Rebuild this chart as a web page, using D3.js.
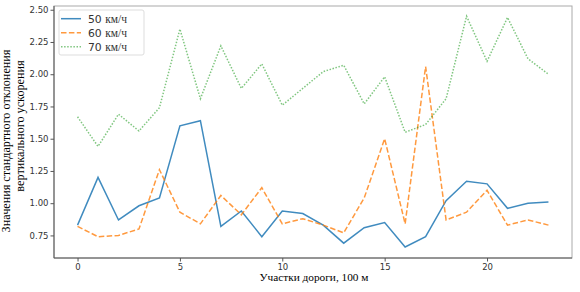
<!DOCTYPE html>
<html><head><meta charset="utf-8">
<script src="https://cdn.jsdelivr.net/npm/d3@7"></script>
<style>body{margin:0;background:#fff}</style>
</head><body>
<svg id="c" width="580" height="292"></svg>
<script>
const sections = d3.range(0, 24);
const v50 = [0.83,1.20,0.87,0.98,1.04,1.60,1.64,0.82,0.94,0.74,0.94,0.92,0.83,0.69,0.81,0.85,0.66,0.74,1.02,1.17,1.15,0.96,1.00,1.01];
const v60 = [0.82,0.74,0.75,0.80,1.26,0.93,0.84,1.06,0.91,1.12,0.84,0.88,0.83,0.77,1.04,1.50,0.84,2.06,0.87,0.93,1.10,0.83,0.87,0.83];
const v70 = [1.67,1.44,1.69,1.56,1.74,2.35,1.81,2.22,1.89,2.08,1.76,1.89,2.02,2.07,1.77,1.98,1.55,1.61,1.81,2.45,2.10,2.44,2.12,2.00];
const seriesNames = ["50", "60", "70"];
const xTicks = [0,5,10,15,20];
const yTicks = [0.75,1.00,1.25,1.50,1.75,2.00,2.25,2.50];

const svg = d3.select("#c");
const L=54, R=572, T=6, B=258;
const x = d3.scaleLinear().domain([-1.15, 24.15]).range([L, R]);
const y = d3.scaleLinear().domain([0.575, 2.529]).range([B, T]);

const series = [
  {name: seriesNames[0], vals: v50, color: "#1f77b4", dash: null, op: 0.85},
  {name: seriesNames[1], vals: v60, color: "#ff7f0e", dash: "5.5,2.4", op: 0.8},
  {name: seriesNames[2], vals: v70, color: "#2ca02c", dash: "1.5,1.6", op: 0.6}
];

const line = d3.line().x((d,i)=>x(sections[i])).y(d=>y(d));
series.forEach(s=>{
  svg.append("path").attr("d", line(s.vals)).attr("fill","none")
    .attr("stroke", s.color).attr("stroke-width",1.5).attr("stroke-opacity", s.op)
    .attr("stroke-dasharray", s.dash);
});

// frame
svg.append("rect").attr("x",L).attr("y",T).attr("width",R-L).attr("height",B-T)
  .attr("fill","none").attr("stroke","#aaa").attr("stroke-width",1);
svg.append("line").attr("x1",L).attr("x2",L).attr("y1",T).attr("y2",B).attr("stroke","#555");
svg.append("line").attr("x1",L).attr("x2",R).attr("y1",B).attr("y2",B).attr("stroke","#555");

const xa = svg.append("g").attr("transform",`translate(0,${B})`)
  .call(d3.axisBottom(x).tickValues(xTicks).tickFormat(d3.format("d")).tickSize(3.5).tickPadding(2));
const ya = svg.append("g").attr("transform",`translate(${L},0)`)
  .call(d3.axisLeft(y).tickValues(yTicks).tickFormat(d3.format(".2f")).tickSize(3.5).tickPadding(2));
[xa, ya].forEach(a=>{
  a.select(".domain").remove();
  a.selectAll(".tick line").attr("stroke","#555");
  a.selectAll(".tick text").attr("fill","#333").style("font-family","DejaVu Sans").style("font-size","8.5px");
});

// axis labels
svg.append("text").attr("x",(L+R)/2 + 1).attr("y",281).attr("text-anchor","middle")
  .style("font-family","Liberation Serif").style("font-size","11.3px").attr("fill","#000")
  .text("Участки дороги, 100 м");
svg.append("text").attr("transform","translate(10,141) rotate(-90)").attr("text-anchor","middle")
  .style("font-family","Liberation Serif").style("font-size","12.2px").attr("fill","#000")
  .text("Значения стандартного отклонения");
svg.append("text").attr("transform","translate(24,126) rotate(-90)").attr("text-anchor","middle")
  .style("font-family","Liberation Serif").style("font-size","12.2px").attr("fill","#000")
  .text("вертикального ускорения");

// legend
const lg = svg.append("g");
lg.append("rect").attr("x",59).attr("y",10).attr("width",85).attr("height",45).attr("rx",2)
  .attr("fill","#fff").attr("fill-opacity",0.8).attr("stroke","#ddd");
series.forEach((s,i)=>{
  const yy = 18.7 + i*14;
  lg.append("line").attr("x1",61).attr("x2",81).attr("y1",yy).attr("y2",yy)
    .attr("stroke",s.color).attr("stroke-width",1.5).attr("stroke-opacity",s.op).attr("stroke-dasharray",s.dash);
  const t = lg.append("text").attr("x",88).attr("y",yy+4).attr("fill","#333");
  t.append("tspan").style("font-family","DejaVu Sans").style("font-size","10.8px").text(s.name+" ");
  t.append("tspan").style("font-family","Liberation Serif").style("font-size","11.5px").text("км/ч");
});
</script>
</body></html>
